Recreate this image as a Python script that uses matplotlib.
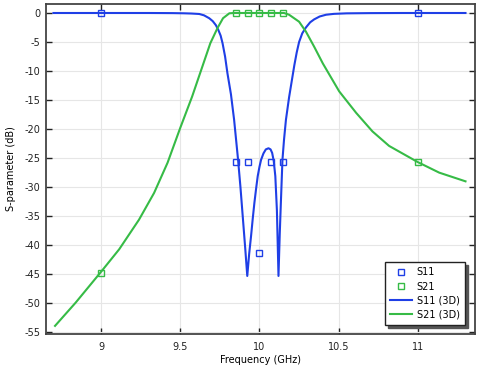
import matplotlib
matplotlib.use("Agg")
import matplotlib.pyplot as plt

# Markers (discrete data)
s11_mk_f = [9.0, 9.85, 9.925, 10.0, 10.075, 10.15, 11.0]
s11_mk_db = [0.0, -25.7, -25.7, -41.3, -25.7, -25.7, 0.0]
s21_mk_f = [9.0, 9.85, 9.925, 10.0, 10.075, 10.15, 11.0]
s21_mk_db = [-44.8, 0.0, 0.0, 0.0, 0.0, 0.0, -25.7]

# S11 (3D) curve
s11_f = [8.70, 9.00, 9.30, 9.45, 9.52, 9.57, 9.62, 9.65, 9.683, 9.705, 9.725, 9.74,
         9.755, 9.767, 9.783, 9.798, 9.82, 9.84, 9.865, 9.88, 9.896, 9.91, 9.923,
         9.935, 9.947, 9.958, 9.968, 9.979, 9.989, 10.00, 10.01, 10.025, 10.04, 10.057,
         10.07, 10.08, 10.09, 10.10, 10.11, 10.12, 10.128, 10.135, 10.145, 10.155,
         10.167, 10.187, 10.205, 10.22, 10.235, 10.25, 10.27, 10.293, 10.32, 10.345,
         10.38, 10.42, 10.47, 10.55, 10.70, 10.90, 11.10, 11.30]
s11_db = [0.0, 0.0, 0.0, -0.02, -0.05, -0.09, -0.17, -0.4, -0.9, -1.4, -2.1, -2.9,
          -3.9, -5.2, -7.5, -10.4, -14.0, -18.4, -25.3, -30.0, -35.6, -40.5, -45.3,
          -41.5, -38.4, -35.3, -32.7, -30.2, -28.1, -26.5, -25.3, -24.2, -23.5, -23.3,
          -23.5, -24.1, -25.5, -28.1, -34.0, -45.3, -38.0, -32.7, -25.3, -21.8,
          -18.4, -14.5, -11.5, -9.0, -6.8, -5.0, -3.5, -2.5, -1.6, -1.1,
          -0.6, -0.3, -0.15, -0.06, -0.02, 0.0, 0.0, 0.0]

# S21 (3D) curve
s21_f = [8.71, 8.84, 9.00, 9.115, 9.24, 9.335, 9.42, 9.50, 9.575, 9.64, 9.69,
         9.735, 9.77, 9.81, 9.84, 9.90, 10.00, 10.10, 10.155, 10.187, 10.25, 10.293,
         10.345, 10.40, 10.503, 10.61, 10.713, 10.818, 11.00, 11.134, 11.30]
s21_db = [-53.9, -49.9, -44.6, -40.7, -35.6, -31.0, -25.8, -19.8, -14.4, -9.2, -5.2,
          -2.6, -0.9, -0.05, 0.0, 0.0, 0.0, 0.0, 0.0, -0.3, -1.5, -3.2,
          -5.8, -8.7, -13.5, -17.2, -20.4, -22.9, -25.7, -27.5, -29.0]

xticks = [9, 9.5, 10, 10.5, 11]
xticklabels = ["9", "9.5", "10", "10.5", "11"]
yticks = [0, -5, -10, -15, -20, -25, -30, -35, -40, -45, -50, -55]

blue = "#1f3fe6"
green = "#36bb46"

fig = plt.figure(figsize=(4.83, 3.66), dpi=100)
ax = fig.add_axes([46/483, 32/366, 429/483, 330/366])

ax.plot(s11_mk_f, s11_mk_db, linestyle="none", marker="s", markersize=4.5,
        markerfacecolor="none", markeredgecolor=blue, markeredgewidth=1.0, label="S11", zorder=4)
ax.plot(s21_mk_f, s21_mk_db, linestyle="none", marker="s", markersize=4.5,
        markerfacecolor="none", markeredgecolor=green, markeredgewidth=1.0, label="S21", zorder=4)
ax.plot(s11_f, s11_db, color=blue, lw=1.5, label="S11 (3D)", zorder=3)
ax.plot(s21_f, s21_db, color=green, lw=1.5, label="S21 (3D)", zorder=3)

ax.set_xlim(8.653, 11.36)
ax.set_ylim(-55.3, 1.55)
ax.set_xticks(xticks)
ax.set_xticklabels(xticklabels)
ax.set_yticks(yticks)
ax.set_yticklabels([str(v) for v in yticks])
ax.grid(True, color="#e6e6e6", lw=0.8)
ax.set_axisbelow(True)
ax.tick_params(direction="in", length=4, width=1.0, labelsize=7, colors="#222222",
               top=True, right=True, pad=4)
ax.tick_params(axis="x", pad=6)
for s in ax.spines.values():
    s.set_color("#444444")
    s.set_linewidth(1.3)

ax.set_xlabel("Frequency (GHz)", fontsize=7, labelpad=2)
ax.set_ylabel("S-parameter (dB)", fontsize=7, labelpad=6)

leg = ax.legend(loc="lower right", bbox_to_anchor=(0.9767, 0.027), borderaxespad=0,
                fontsize=7, frameon=True, fancybox=False,
                shadow={"color": "#555555", "alpha": 1.0},
                edgecolor="#222222", framealpha=1.0, borderpad=0.55, labelspacing=0.42,
                handlelength=2.2, handletextpad=0.5)
leg.get_frame().set_linewidth(1.0)

fig.savefig("out.png", dpi=100)
